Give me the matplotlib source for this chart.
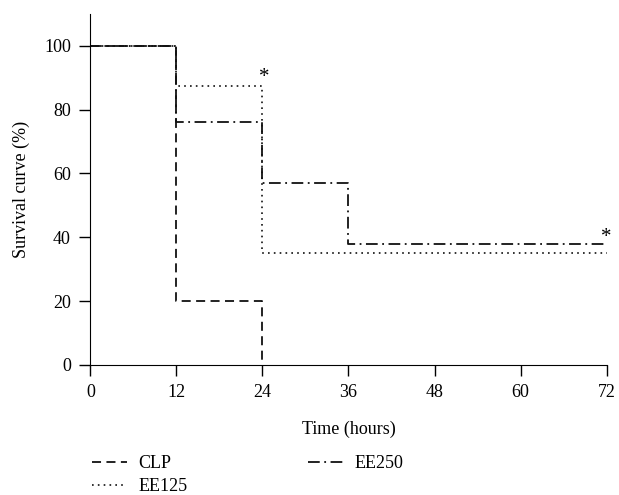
import matplotlib.pyplot as plt

plt.rcParams['font.family'] = ['Liberation Serif', 'DejaVu Serif']

# survival data (step curves)
clp_t = [0, 12, 24]
clp_s = [100, 20, 0]
ee125_t = [0, 12, 24, 72]
ee125_s = [100, 87.5, 35, 35]
ee250_t = [0, 12, 24, 36, 72]
ee250_s = [100, 76, 57, 38, 38]

xticks = [0, 12, 24, 36, 48, 60, 72]
yticks = [0, 20, 40, 60, 80, 100]

fig = plt.figure(figsize=(6.19, 4.95), dpi=100)
ax = fig.add_axes([0.146, 0.263, 0.834, 0.709])

col = '#111111'
l1, = ax.plot(clp_t, clp_s, drawstyle='steps-post', ls=(0, (5, 3)), color=col, lw=1.3, label='CLP', clip_on=False)
l2, = ax.plot(ee125_t, ee125_s, drawstyle='steps-post', ls=(0, (1, 2.5)), color=col, lw=1.2, label='EE125', clip_on=False)
l3, = ax.plot(ee250_t, ee250_s, drawstyle='steps-post', ls=(0, (6.5, 2.5, 1, 2.5)), color=col, lw=1.3, label='EE250', clip_on=False)

ax.text(24.2, 87, '*', fontsize=15, ha='center', va='bottom')
ax.text(72, 37, '*', fontsize=15, ha='center', va='bottom')

ax.set_xlim(0, 72)
ax.set_ylim(0, 110)
ax.set_xticks(xticks)
ax.set_yticks(yticks)
ax.spines['top'].set_visible(False)
ax.spines['right'].set_visible(False)
ax.tick_params(direction='out', length=8, width=1, labelsize=13, pad=6)
ax.set_xlabel('Time (hours)', fontsize=13, labelpad=14)
ax.set_ylabel('Survival curve (%)', fontsize=13, labelpad=10)

fig.legend(handles=[l1, l2, l3], loc='upper left', bbox_to_anchor=(0.149, 0.081),
           ncol=2, frameon=False, fontsize=13, handlelength=1.9, handletextpad=0.65,
           columnspacing=6.7, labelspacing=0.33, borderpad=0, borderaxespad=0)

fig.savefig('out.png', dpi=100)
